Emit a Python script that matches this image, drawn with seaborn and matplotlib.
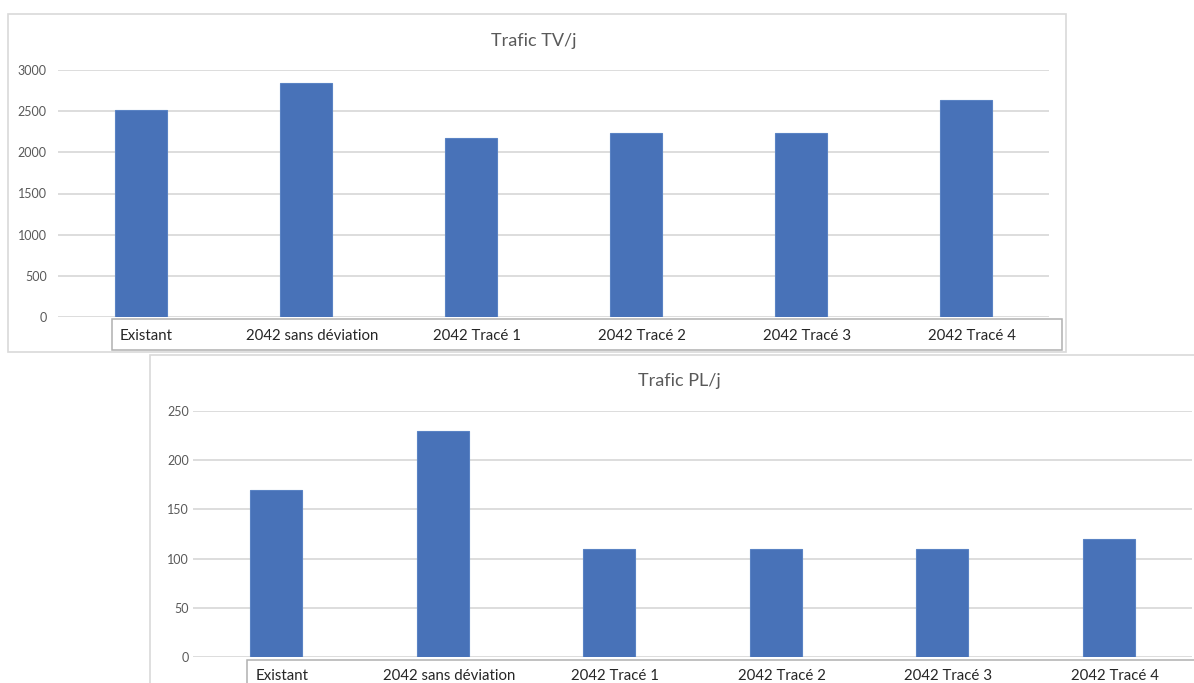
import matplotlib
matplotlib.use("Agg")
import matplotlib.pyplot as plt
import matplotlib.transforms as mtransforms
from matplotlib.patches import Rectangle
import seaborn as sns
import pandas as pd

categories = ["Existant", "2042 sans déviation", "2042 Tracé 1",
              "2042 Tracé 2", "2042 Tracé 3", "2042 Tracé 4"]
tv_values = [2510, 2840, 2170, 2230, 2240, 2640]
pl_values = [170, 230, 110, 110, 110, 120]
tv_ticks = [0, 500, 1000, 1500, 2000, 2500, 3000]
pl_ticks = [0, 50, 100, 150, 200, 250]

sns.set_theme(style="white")
plt.rcParams['font.family'] = ['Lato', 'DejaVu Sans']

W, H = 1194, 683
fig = plt.figure(figsize=(W / 100, H / 100), dpi=100)
fig.patch.set_facecolor("white")


def box(x0, y0, x1, y1, color, lw=1.2):
    # pixel coords from the top-left corner
    r = Rectangle((x0 / W, 1 - y1 / H), (x1 - x0) / W, (y1 - y0) / H,
                  transform=fig.transFigure, fill=False, edgecolor=color,
                  linewidth=lw, zorder=0)
    fig.patches.append(r)


def chart(left, right, top, bottom, values, ticks, title, title_xy):
    ax = fig.add_axes([left / W, 1 - bottom / H, (right - left) / W, (bottom - top) / H])
    df = pd.DataFrame({"cat": categories, "val": values})
    sns.barplot(data=df, x="cat", y="val", color="#4872B8", width=0.315,
                saturation=1, edgecolor="#5a83c4", linewidth=0.8, ax=ax, zorder=3)
    ax.set_ylim(0, ticks[-1])
    ax.set_xlim(-0.5, len(categories) - 0.5)
    ax.set_yticks(ticks)
    ax.set_yticklabels([str(t) for t in ticks], color="#595959", fontsize=9)
    ax.yaxis.grid(True, color="#dadada", linewidth=1.3)
    ax.set_axisbelow(True)
    for s in ax.spines.values():
        s.set_visible(False)
    ax.tick_params(axis="both", length=0)
    ax.tick_params(axis="x", pad=9, labelsize=10.8, labelcolor="#262626")
    ax.tick_params(axis="y", pad=8)
    offset = mtransforms.ScaledTranslation(6 / 100, 0, fig.dpi_scale_trans)
    for lab in ax.get_xticklabels():
        lab.set_transform(lab.get_transform() + offset)
    ax.set_xlabel("")
    ax.set_ylabel("")
    ax.patch.set_alpha(0)
    fig.text(title_xy[0] / W, 1 - title_xy[1] / H, title, ha="center", va="center",
             fontsize=13, color="#595959")
    return ax


# chart frames
box(8, 14, 1066, 352, "#d9d9d9")
box(150, 355, 1200, 690, "#d9d9d9")
# category label boxes
box(112, 319, 1062, 350, "#b0b0b0", lw=1.1)
box(247, 660, 1200, 690, "#b0b0b0", lw=1.1)

ax1 = chart(58, 1049, 70, 317, tv_values, tv_ticks, "Trafic TV/j", (534, 41))
ax2 = chart(193, 1192, 411, 657, pl_values, pl_ticks, "Trafic PL/j", (679, 381))
ax2.tick_params(axis="y", pad=3)

fig.savefig("out.png", dpi=100, facecolor="white")
